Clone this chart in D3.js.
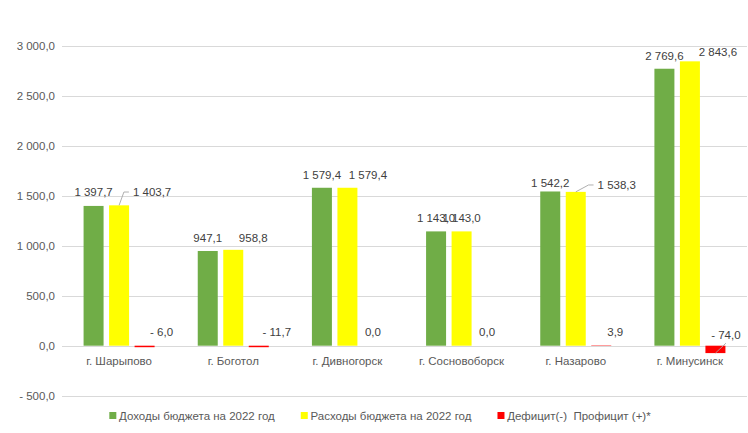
<!DOCTYPE html>
<html>
<head>
<meta charset="utf-8">
<script src="https://cdn.jsdelivr.net/npm/d3@7/dist/d3.min.js"></script>
<style>
  html, body { margin: 0; padding: 0; background: #fff; }
  svg { display: block; font-family: "Liberation Sans", Arial, sans-serif; }
</style>
</head>
<body>
<svg id="chart" width="748" height="433"></svg>
<script>
// ---- data ----
const cities = ["г. Шарыпово", "г. Боготол", "г. Дивногорск", "г. Сосновоборск", "г. Назарово", "г. Минусинск"];
const income = [1397.7, 947.1, 1579.4, 1143.0, 1542.2, 2769.6];
const expenses = [1403.7, 958.8, 1579.4, 1143.0, 1538.3, 2843.6];
const balance = [-6.0, -11.7, 0.0, 0.0, 3.9, -74.0];
const seriesNames = ["Доходы бюджета на 2022 год", "Расходы бюджета на 2022 год", "Дефицит(-)  Профицит (+)*"];
const yTicks = [-500, 0, 500, 1000, 1500, 2000, 2500, 3000];

// ---- label placement tweaks (manual label moves in the original) ----
const labelDx = [
  [0, 0, 0, 0, 0, 0],
  [33, 20, 20.5, 0, 41, 28],
  [17, 18, 0, 0, 14, 10.5]
];
const labelDy = [
  [0, 0.5, 0.7, 0, 4.7, 0.8],
  [0.2, 1.7, 0.7, 0, 6.6, 3.9],
  [0, 0, 0, 0, 0, 3]
];
// leader lines: [series, city, type]
const leaders = [[1, 0, "elbow"], [1, 4, "elbow"], [2, 5, "direct"]];

const colors = ["#70ad47", "#ffff00", "#ff0000"];
const values = [income, expenses, balance];

const svg = d3.select("#chart");
const W = 748, H = 433;
const plot = { left: 62, right: 747, top: 45.7, bottom: 395.7 };

const y = d3.scaleLinear().domain([-500, 3000]).range([plot.bottom, plot.top]);
const pIn = 0.378;
const x0 = d3.scaleBand().domain(cities).range([plot.left, plot.right]).paddingInner(pIn).paddingOuter(pIn / 2);
const x1 = d3.scaleBand().domain([0, 1, 2]).range([0, x0.bandwidth()]).paddingInner(0.216).paddingOuter(0);

function fmt(v) {
  const a = Math.abs(v);
  const s = d3.format(",.1f")(a).replace(/,/g, " ").replace(".", ",");
  return (v < 0 ? "- " : "") + s;
}

// gridlines
const yAxis = d3.axisLeft(y).tickValues(yTicks).tickSize(-(plot.right - plot.left)).tickFormat(fmt).tickPadding(7);
const gy = svg.append("g").attr("transform", `translate(${plot.left},0)`).call(yAxis);
gy.select(".domain").remove();
gy.selectAll(".tick line").attr("stroke", "#d9d9d9").attr("stroke-width", 1).attr("shape-rendering", "crispEdges");
gy.selectAll(".tick text").attr("fill", "#595959").style("font-size", "11.5px").style("font-family", "'Liberation Sans', Arial, sans-serif");

// bars
const groups = svg.append("g").selectAll("g").data(cities).join("g")
  .attr("transform", d => `translate(${x0(d)},0)`);

[0, 1, 2].forEach(s => {
  groups.append("rect")
    .attr("x", x1(s))
    .attr("width", x1.bandwidth())
    .attr("y", (d, i) => {
      const v = values[s][i];
      let h = Math.abs(y(v) - y(0));
      if (Math.abs(v) >= 5) h = Math.max(h, 1.5);
      return v >= 0 ? y(0) - h : y(0);
    })
    .attr("height", (d, i) => {
      const v = values[s][i];
      let h = Math.abs(y(v) - y(0));
      if (Math.abs(v) >= 5) h = Math.max(h, 1.5);
      return h;
    })
    .attr("fill", colors[s]);
});

// category labels
svg.append("g").selectAll("text").data(cities).join("text")
  .attr("x", d => x0(d) + x0.bandwidth() / 2)
  .attr("y", y(0) + 15.5)
  .attr("dy", "0.35em")
  .attr("text-anchor", "middle")
  .attr("fill", "#595959")
  .style("font-size", "11.5px")
  .text(d => d);

// data labels
const labelLayer = svg.append("g");
const labelPos = {};
[0, 1, 2].forEach(s => {
  cities.forEach((c, i) => {
    const v = values[s][i];
    const cx = x0(c) + x1(s) + x1.bandwidth() / 2;
    const top = s === 2 ? y(0) : y(Math.max(v, 0));
    const lx = cx + labelDx[s][i];
    const ly = top - 13.5 + labelDy[s][i];
    const t = labelLayer.append("text")
      .attr("x", lx).attr("y", ly).attr("dy", "0.35em")
      .attr("text-anchor", "middle")
      .attr("fill", "#404040")
      .style("font-size", "11.5px")
      .text(fmt(v));
    labelPos[s + "_" + i] = { cx, barEnd: y(v), lx, ly, w: t.node().getComputedTextLength() };
  });
});

// leader lines
leaders.forEach(([s, i, type]) => {
  const p = labelPos[s + "_" + i];
  let pts;
  if (type === "elbow") {
    const left = p.lx - p.w / 2;
    pts = [[p.cx, p.barEnd], [left - 9, p.ly], [left - 4, p.ly]];
  } else {
    pts = [[p.cx, p.barEnd], [p.lx, p.ly + 8]];
  }
  labelLayer.append("path")
    .attr("d", d3.line()(pts))
    .attr("fill", "none")
    .attr("stroke", "#a6a6a6")
    .attr("stroke-width", 0.9);
});

// legend
const legend = svg.append("g");
const legendY = 415.5;
const items = seriesNames.map((n, s) => {
  const g = legend.append("g");
  g.append("rect").attr("x", 0).attr("y", legendY - 3.5).attr("width", 7).attr("height", 7).attr("fill", colors[s]);
  const t = g.append("text").attr("x", 9.7).attr("y", legendY).attr("dy", "0.35em")
    .attr("fill", "#595959").style("font-size", "11.5px").style("white-space", "pre").text(n);
  return { g, w: 9.7 + t.node().getComputedTextLength() };
});
const gap = 26;
const total = d3.sum(items, d => d.w) + gap * (items.length - 1);
let cur = 380 - total / 2;
items.forEach(it => { it.g.attr("transform", `translate(${cur},0)`); cur += it.w + gap; });
</script>
</body>
</html>
